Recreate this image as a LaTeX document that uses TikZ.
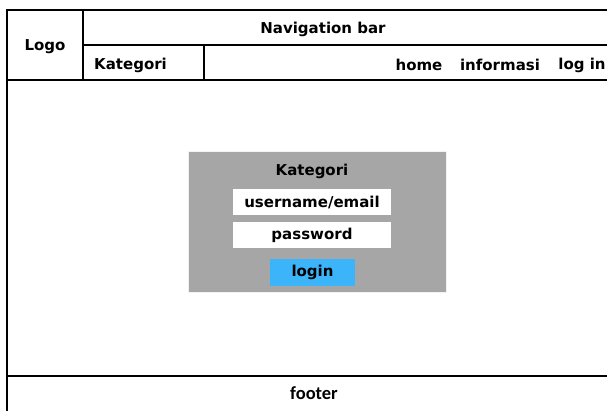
\documentclass[tikz,border=0pt]{standalone}
\usepackage{fontspec}
\setmainfont{DejaVu Sans}
\newfontfamily\footfont{Carlito}
\definecolor{panelgray}{HTML}{A6A6A6}
\definecolor{btnblue}{HTML}{3CB4FA}
\begin{document}
\begin{tikzpicture}[x=1pt,y=-1pt,
  frame/.style={line width=2pt, draw=black},
  label/.style={font=\fontsize{15}{18}\selectfont\bfseries, inner sep=0pt},
  field/.style={fill=white, draw=none, minimum width=158pt, minimum height=26pt, inner sep=0pt, font=\fontsize{15}{18}\selectfont\bfseries},
  button/.style={fill=btnblue, draw=none, minimum width=85pt, minimum height=27pt, inner sep=0pt, font=\fontsize{15}{18}\selectfont\bfseries},
  panel/.style={fill=panelgray, draw=white!85!panelgray, line width=0.8pt, minimum width=258pt, minimum height=141pt, inner sep=0pt}]
\useasboundingbox (0,0) rectangle (607,410);

% page frame and header grid
\coordinate (tl) at (7,9.5);
\coordinate (tr) at (608,9.5);
\coordinate (bl) at (7,411);
\draw[frame] (tr) -- (tl) -- (bl);
\coordinate (logoTop) at (83,9.5);
\coordinate (logoBot) at (83,80);
\draw[frame] (logoTop) -- (logoBot);
\coordinate (navL) at (83,45);
\coordinate (navR) at (608,45);
\draw[frame] (navL) -- (navR);
\coordinate (katTop) at (204,45);
\coordinate (katBot) at (204,80);
\draw[frame] (katTop) -- (katBot);
\coordinate (hdrL) at (7,80);
\coordinate (hdrR) at (608,80);
\draw[frame] (hdrL) -- (hdrR);
\coordinate (ftL) at (7,376);
\coordinate (ftR) at (608,376);
\draw[frame] (ftL) -- (ftR);

% header labels
\node[label] (logo) at (45,47) {Logo};
\node[label] (navbar) at (323,29) {Navigation bar};
\node[label, anchor=west] (kategori) at (94,65) {Kategori};
\node[label] (home) at (419,65) {home};
\node[label] (info) at (500,65) {informasi};
\node[label] (login-link) at (582,65) {log in};

% login panel
\node[panel] (panel) at (317,221.5) {};
\node[label] (ptitle) at (312,171) {Kategori};
\node[field] (user) at (312,202) {username/email};
\node[field] (pass) at (312,235) {password};
\node[button] (btn) at (312.5,272.5) {login};

% footer
\node[font=\footfont\fontsize{18.5}{22}\selectfont\bfseries, inner sep=0pt] (footer) at (314,393) {footer};
\end{tikzpicture}
\end{document}
